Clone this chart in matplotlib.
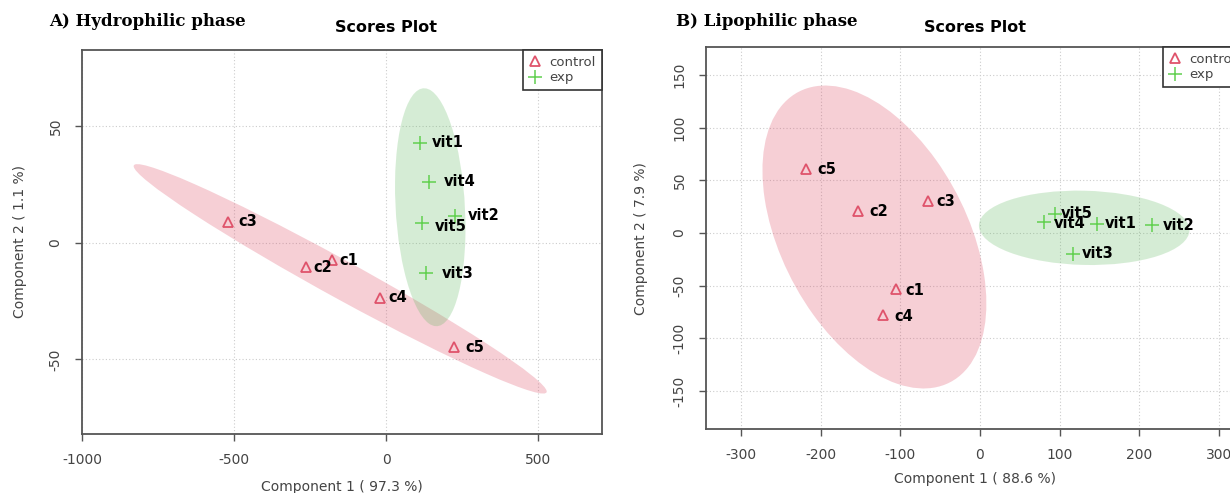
import numpy as np
import matplotlib
matplotlib.use('Agg')
import matplotlib.pyplot as plt
from matplotlib.patches import Ellipse
from matplotlib.lines import Line2D

plt.rcParams['axes.unicode_minus'] = False

# PCA scores (c1..c5 = control, vit1..vit5 = exp)
ctrl_names = ['c1', 'c2', 'c3', 'c4', 'c5']
exp_names = ['vit1', 'vit2', 'vit3', 'vit4', 'vit5']

# A) hydrophilic phase
hyd_ctrl_x = [-177, -262, -521, -19, 224]
hyd_ctrl_y = [-7.5, -10.3, 9.1, -23.5, -44.8]
hyd_exp_x = [110, 227, 130, 142, 117]
hyd_exp_y = [43.0, 11.7, -12.9, 26.3, 8.6]

# B) lipophilic phase
lip_ctrl_x = [-105, -153, -65, -121, -218]
lip_ctrl_y = [-53.2, 20.9, 30.4, -77.4, 60.8]
lip_exp_x = [147, 216, 117, 80, 94]
lip_exp_y = [8.5, 7.3, -19.7, 11.0, 18.0]

RED = '#DF536B'
GREEN = '#61D04F'
TXT = '#444444'
SPINE = '#555555'
T95 = np.sqrt(5.991)  # sqrt(qchisq(0.95, 2))

# label offsets in pixels (dx, dy), per point
hyd_ctrl_off = [(7, 0), (7, -1), (11, 0), (8, 0), (11, 0)]
hyd_exp_off = [(12, 0), (13, 0), (16, 0), (15, 0), (13, -4)]
lip_ctrl_off = [(9, -1), (11, 0), (8, 0), (11, -2), (11, 0)]
lip_exp_off = [(8, 1), (11, 0), (9, 0), (10, -2), (6, 1)]


def conf_ellipse(ax, xs, ys, color, alpha):
    xs = np.asarray(xs, float)
    ys = np.asarray(ys, float)
    cov = np.cov(xs, ys)
    vals, vecs = np.linalg.eigh(cov)
    ang = np.degrees(np.arctan2(vecs[1, 1], vecs[0, 1]))
    e = Ellipse((xs.mean(), ys.mean()), 2 * T95 * np.sqrt(vals[1]),
                2 * T95 * np.sqrt(vals[0]), angle=ang,
                facecolor=color, edgecolor='none', alpha=alpha, zorder=1)
    ax.add_patch(e)


def scores(ax, cx, cy, ex, ey, coff, eoff):
    conf_ellipse(ax, cx, cy, RED, 0.28)
    conf_ellipse(ax, ex, ey, '#5BB75B', 0.25)
    ax.plot(cx, cy, ls='none', marker='^', ms=6.5, mfc='none', mec=RED,
            mew=1.3, zorder=3)
    ax.plot(ex, ey, ls='none', marker='+', ms=10, color=GREEN, mew=1.1,
            zorder=3)
    for x, y, n, o in zip(cx, cy, ctrl_names, coff):
        ax.annotate(n, (x, y), xytext=o, textcoords='offset pixels',
                    ha='left', va='center', fontsize=10.5,
                    fontweight='bold', color='black', zorder=4)
    for x, y, n, o in zip(ex, ey, exp_names, eoff):
        ax.annotate(n, (x, y), xytext=o, textcoords='offset pixels',
                    ha='left', va='center', fontsize=10.5,
                    fontweight='bold', color='black', zorder=4)
    ax.grid(True, color='#cccccc', ls=(0, (1, 2)), lw=0.8)
    ax.set_axisbelow(True)
    for s in ax.spines.values():
        s.set_color(SPINE)
        s.set_linewidth(1.3)
    ax.tick_params(direction='out', length=5, color=SPINE, width=1,
                   labelsize=10, labelcolor=TXT, pad=9)
    for lab in ax.get_yticklabels():
        lab.set_rotation(90)
        lab.set_va('center')
    handles = [Line2D([], [], ls='none', marker='^', ms=6.5, mfc='none',
                      mec=RED, mew=1.3),
               Line2D([], [], ls='none', marker='+', ms=10, color=GREEN,
                      mew=1.1)]
    leg = ax.legend(handles, ['control', 'exp'], loc='upper right',
                    borderaxespad=0, fontsize=9.5, frameon=True,
                    fancybox=False, framealpha=1, handlelength=1,
                    handletextpad=0.6, borderpad=0.45, labelspacing=0.2,
                    labelcolor=TXT)
    leg.get_frame().set_edgecolor('#333333')
    leg.get_frame().set_linewidth(1.2)


fig = plt.figure(figsize=(12.3, 4.93), dpi=100)

ax1 = fig.add_axes([82 / 1230, 1 - 434 / 493, 520 / 1230, 384.4 / 493])
ax1.set_xlim(-1000, 710)
ax1.set_ylim(-82, 83)
ax1.set_xticks([-1000, -500, 0, 500])
ax1.set_yticks([-50, 0, 50])
scores(ax1, hyd_ctrl_x, hyd_ctrl_y, hyd_exp_x, hyd_exp_y,
       hyd_ctrl_off, hyd_exp_off)
ax1.spines['left'].set_linestyle((0, (1, 1)))

ax2 = fig.add_axes([706 / 1230, 1 - 429 / 493, 536 / 1230, 382.3 / 493])
ax2.set_xlim(-343.7, 328.8)
ax2.set_ylim(-186, 177)
ax2.set_xticks([-300, -200, -100, 0, 100, 200, 300])
ax2.set_yticks([-150, -100, -50, 0, 50, 100, 150])
scores(ax2, lip_ctrl_x, lip_ctrl_y, lip_exp_x, lip_exp_y,
       lip_ctrl_off, lip_exp_off)


def fx(px):
    return px / 1230


def fy(py):
    return 1 - py / 493


fig.text(fx(49), fy(21), 'A) Hydrophilic phase', family='DejaVu Serif',
         fontweight='bold', fontsize=12, ha='left', va='center')
fig.text(fx(676), fy(21), 'B) Lipophilic phase', family='DejaVu Serif',
         fontweight='bold', fontsize=12, ha='left', va='center')
fig.text(fx(386), fy(27), 'Scores Plot', fontweight='bold', fontsize=11.5,
         ha='center', va='center')
fig.text(fx(975), fy(27), 'Scores Plot', fontweight='bold', fontsize=11.5,
         ha='center', va='center')
fig.text(fx(342), fy(487), 'Component 1 ( 97.3 %)', fontsize=10,
         color=TXT, ha='center', va='center')
fig.text(fx(975), fy(479), 'Component 1 ( 88.6 %)', fontsize=10,
         color=TXT, ha='center', va='center')
fig.text(fx(20), fy(241), 'Component 2 ( 1.1 %)', fontsize=10,
         color=TXT, ha='center', va='center', rotation=90)
fig.text(fx(641), fy(239), 'Component 2 ( 7.9 %)', fontsize=10,
         color=TXT, ha='center', va='center', rotation=90)

fig.savefig('out.png', dpi=100)
